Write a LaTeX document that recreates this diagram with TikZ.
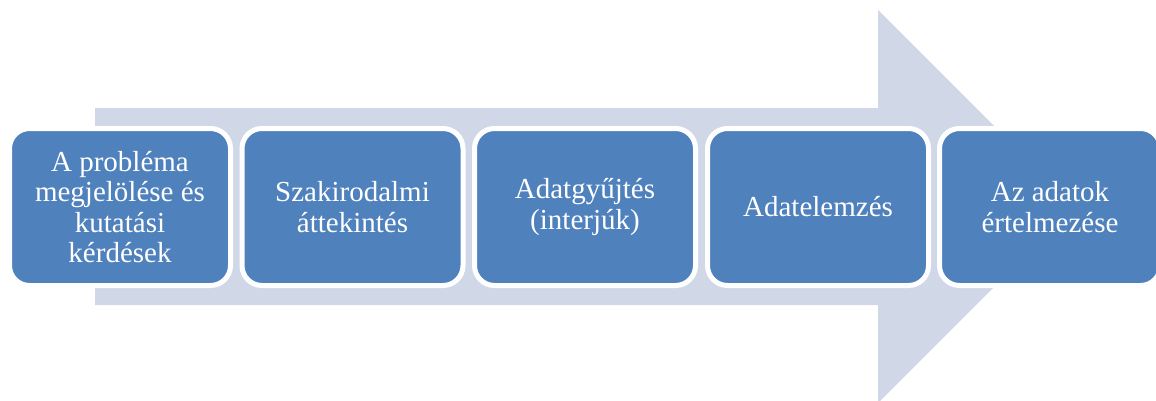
\documentclass[tikz,border=0pt]{standalone}
\usepackage{fontspec}
\setmainfont{Liberation Serif}
\definecolor{boxblue}{HTML}{4F81BD}
\definecolor{arrowgray}{HTML}{D0D8E8}
\begin{document}
\begin{tikzpicture}[x=1pt,y=-1pt,
  stepbox/.style={rectangle, rounded corners=20pt, fill=boxblue, draw=white, line width=5pt,
    minimum width=221pt, minimum height=157pt, inner sep=0pt, align=center,
    text=white, font=\fontsize{29}{30.5}\selectfont}]
\useasboundingbox (0,0) rectangle (1156,400);
\fill[arrowgray] (95,108) -- (878,108) -- (878,10) -- (1074.5,206.5) -- (878,403) -- (878,305) -- (95,305) -- cycle;
\node[stepbox] (s1) at (120,207) {A probléma\\megjelölése és\\kutatási\\kérdések};
\node[stepbox] (s2) at (352.5,207) {Szakirodalmi\\áttekintés};
\node[stepbox] (s3) at (585,207) {Adatgyűjtés\\(interjúk)};
\node[stepbox] (s4) at (818,207) {Adatelemzés};
\node[stepbox] (s5) at (1050,207) {Az adatok\\értelmezése};
\end{tikzpicture}
\end{document}
